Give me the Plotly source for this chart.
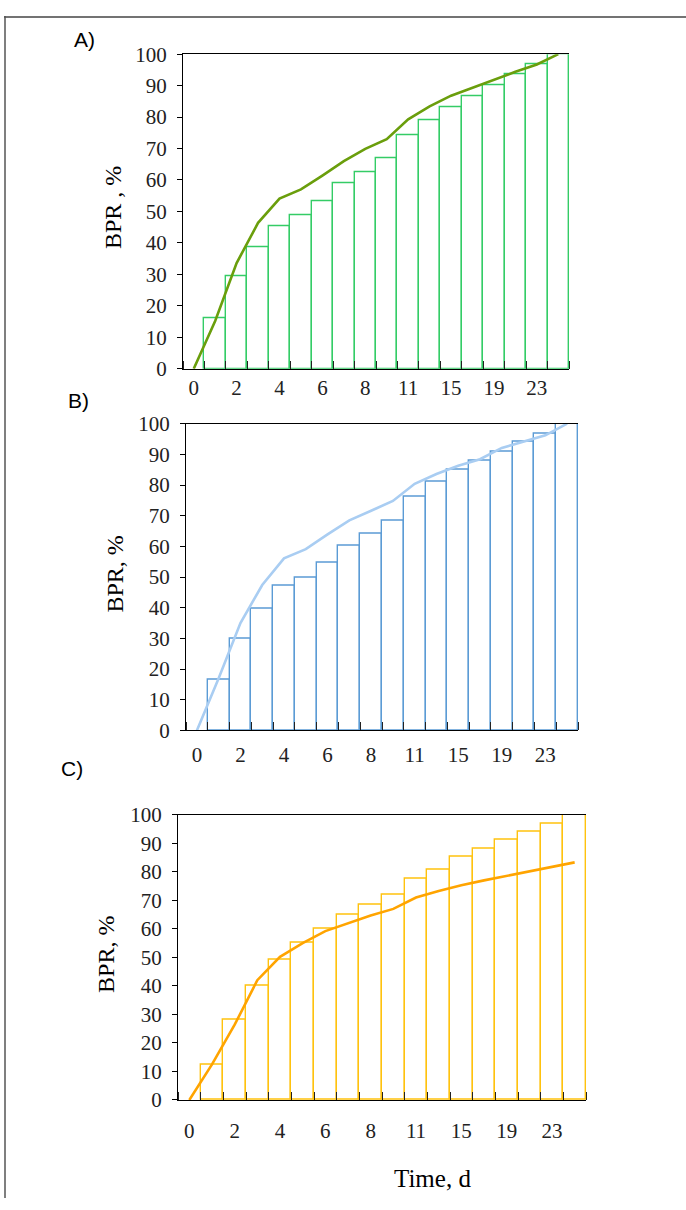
import plotly.graph_objects as go

# ---- data ----
days = [0, 1, 2, 3, 4, 5, 6, 7, 8, 9, 11, 13, 15, 17, 19, 21, 23, 25]
tick_labels = ["0", "2", "4", "6", "8", "11", "15", "19", "23"]

bars_a = [None, 16.0, 29.3, 38.6, 45.3, 48.8, 53.4, 58.9, 62.4, 66.8, 74.2, 79.0, 83.0, 86.6, 90.1, 93.8, 96.7, 100]
line_a = [0, 15.2, 33.6, 46.4, 54.1, 57.0, 61.4, 66.0, 69.9, 73.0, 79.3, 83.4, 86.8, 89.4, 92.0, 94.4, 96.7, 100]

bars_b = [None, 16.5, 29.8, 39.6, 47.1, 49.8, 54.6, 60.1, 64.0, 68.4, 76.2, 81.2, 84.9, 88.0, 90.9, 94.1, 96.8, 100]
line_b = [0, 17.0, 35.0, 47.4, 56.1, 59.1, 63.9, 68.5, 71.6, 74.8, 80.4, 83.6, 86.3, 88.4, 92.1, 94.2, 96.2, 100]

bars_c = [None, 12.3, 28.1, 40.1, 49.3, 55.1, 60.2, 64.9, 68.3, 71.9, 77.5, 80.8, 85.3, 88.1, 91.4, 94.1, 96.8, 100]
line_c = [0, 12.5, 26.4, 42.0, 50.2, 55.0, 59.2, 62.0, 64.7, 67.0, 71.0, 73.3, 75.3, 77.0, 78.6, 80.1, 81.9, 83.3]

W, H = 686, 1210
def px(x):
    return x / W
def py(y):
    return 1 - y / H

idx = list(range(len(days)))
label_pos = idx[::2]

panels = [
    dict(bars=bars_a, line=line_a, bar_col="#34cc66", line_col="#6a9e0c",
         xd=[px(183), px(569)], yd=[py(364), py(43)], title="BPR , %",
         tx=113, ty=200, letter="A)", lx=84, ly=28, xstand=0),
    dict(bars=bars_b, line=line_b, bar_col="#5b9bd5", line_col="#a9cdf2",
         xd=[px(186), px(578)], yd=[py(733), py(420)], title="BPR, %",
         tx=115, ty=574, letter="B)", lx=78, ly=396, xstand=5),
    dict(bars=bars_c, line=line_c, bar_col="#ffc20e", line_col="#ffa400",
         xd=[px(178), px(586)], yd=[py(1110), py(819)], title="BPR, %",
         tx=106, ty=962, letter="C)", lx=72, ly=772, xstand=12),
]

fig = go.Figure()
serif = "Liberation Serif, Times New Roman, serif"
annotations = []
for i, p in enumerate(panels):
    n = "" if i == 0 else str(i + 1)
    xa = "x" + n
    ya = "y" + n
    fig.add_trace(go.Bar(x=idx, y=p["bars"], width=1,
                         marker=dict(color="white", line=dict(color=p["bar_col"], width=1.4)),
                         xaxis=xa, yaxis=ya, showlegend=False, hoverinfo="skip"))
    fig.add_trace(go.Scatter(x=idx, y=p["line"], mode="lines",
                             line=dict(color=p["line_col"], width=2.6),
                             xaxis=xa, yaxis=ya, showlegend=False, hoverinfo="skip"))
    fig.layout["xaxis" + n] = dict(
        domain=p["xd"], anchor=ya, range=[-0.5, len(days) - 0.5],
        tickmode="array", tickvals=label_pos, ticktext=tick_labels,
        ticks="", showgrid=False, zeroline=False,
        showline=True, linecolor="black", linewidth=1.3, mirror=True,
        tickfont=dict(family=serif, size=21, color="#222"),
        ticklabelstandoff=p["xstand"],
        minor=dict(tick0=0.5, dtick=1, ticks="inside", ticklen=8,
                   tickcolor="#222", tickwidth=1.2, showgrid=False),
    )
    fig.layout["yaxis" + n] = dict(
        domain=p["yd"], anchor=xa, range=[0, 100], dtick=10,
        ticks="outside", ticklen=5, tickcolor="black", tickwidth=1,
        showgrid=False, zeroline=False,
        showline=True, linecolor="black", linewidth=1.3,
        tickfont=dict(family=serif, size=21, color="#222"),
        ticklabelstandoff=6,
    )
    annotations.append(dict(x=px(p["tx"]), y=py(p["ty"]), xref="paper", yref="paper",
                            text=p["title"], textangle=-90, showarrow=False,
                            font=dict(family=serif, size=24, color="black"),
                            xanchor="center", yanchor="middle"))
    annotations.append(dict(x=px(p["lx"]), y=py(p["ly"]), xref="paper", yref="paper",
                            text=p["letter"], showarrow=False,
                            font=dict(family="Liberation Sans, Arial, sans-serif", size=21, color="black"),
                            xanchor="center", yanchor="middle"))

annotations.append(dict(x=px(432), y=py(1190), xref="paper", yref="paper",
                        text="Time, d", showarrow=False,
                        font=dict(family=serif, size=25, color="black"),
                        xanchor="center", yanchor="middle"))

shapes = [
    dict(type="line", xref="paper", yref="paper", x0=px(4), x1=px(686), y0=py(5), y1=py(5),
         line=dict(color="#444", width=1.5)),
    dict(type="line", xref="paper", yref="paper", x0=px(5), x1=px(5), y0=py(4), y1=py(1210),
         line=dict(color="#555", width=1.5)),
]

fig.update_layout(width=W, height=H, margin=dict(l=0, r=0, t=0, b=0),
                  paper_bgcolor="white", plot_bgcolor="white",
                  bargap=0, annotations=annotations, shapes=shapes)

fig.write_html("out.html", config={"displayModeBar": False},
               post_script="document.body.style.margin='0';document.body.style.overflow='hidden';")
